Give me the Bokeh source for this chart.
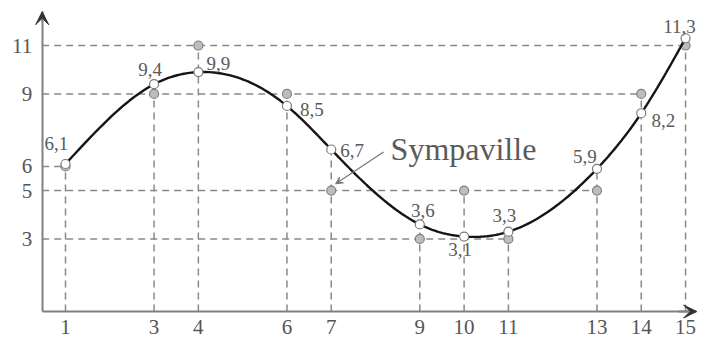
import numpy as np
from bokeh.plotting import figure
from bokeh.models import Range1d, FixedTicker, Arrow, VeeHead, Label, ColumnDataSource
from bokeh.core.properties import value
from bokeh.embed import file_html
from bokeh.resources import INLINE

# ---- data ----
x_vals = [1, 3, 4, 6, 7, 9, 10, 11, 13, 14, 15]
curve_vals = [6.1, 9.4, 9.9, 8.5, 6.7, 3.6, 3.1, 3.3, 5.9, 8.2, 11.3]
actual_vals = [6, 9, 11, 9, 5, 3, 5, 3, 5, 9, 11]
x_ticks = [1, 3, 4, 6, 7, 9, 10, 11, 13, 14, 15]
y_ticks = [3, 5, 6, 9, 11]
callout_text = "Sympaville"

# ---- styling / layout constants ----
label_dx = [-9, -4, 20, 25, 21, 3, -4, -4, -12, 22, -6]
label_dy = [-21, -15, -9, 4, 1, -14, 13, -16, -12, 7, -12]
AXIS_X = 0.474
X_END = 15.25
Y_END = 12.4
SERIF = "Liberation Serif"

p = figure(width=697, height=342, output_backend="svg", toolbar_location=None,
           x_range=Range1d(-0.4676, 15.27), y_range=Range1d(-1.282, 12.862),
           min_border=0, min_border_left=0, min_border_right=0,
           min_border_top=0, min_border_bottom=0)
p.outline_line_color = None
p.grid.visible = False
p.background_fill_color = "white"
p.border_fill_color = "white"

# axes
for ax in (p.xaxis, p.yaxis):
    ax.major_tick_line_color = None
    ax.minor_tick_line_color = None
    ax.major_tick_out = 0
    ax.major_tick_in = 0
    ax.minor_tick_out = 0
    ax.axis_line_color = "#808080"
    ax.axis_line_width = 2
    ax.major_label_text_font = SERIF
    ax.major_label_text_font_size = "21px"
    ax.major_label_text_color = "#555555"
p.xaxis.ticker = FixedTicker(ticks=x_ticks)
p.yaxis.ticker = FixedTicker(ticks=y_ticks)
p.xaxis.fixed_location = 0
p.yaxis.fixed_location = AXIS_X
p.xaxis.bounds = (AXIS_X, X_END)
p.yaxis.bounds = (0, Y_END)
p.xaxis.major_label_standoff = 8
p.yaxis.major_label_standoff = 10

# dashed guide lines
h_levels = sorted(set(actual_vals))
h_ends = [max(x for x, a in zip(x_vals, actual_vals) if a == lv) for lv in h_levels]
p.segment(x0=[AXIS_X] * len(h_levels), y0=h_levels, x1=h_ends, y1=h_levels,
          line_color="#8a8a8a", line_width=1.5, line_dash="7 5")
v_tops = [max(a, c) for a, c in zip(actual_vals, curve_vals)]
p.segment(x0=x_vals, y0=[0] * len(x_vals), x1=x_vals, y1=v_tops,
          line_color="#8a8a8a", line_width=1.5, line_dash="7 5")

# actual (grey) points
p.scatter(x_vals, actual_vals, marker="circle", size=9,
          fill_color="#bdbdbd", line_color="#808080", line_width=1.2)

# smooth curve through the points (natural cubic spline, for drawing only)
xs = np.array(x_vals, float)
ys = np.array(curve_vals, float)
n = len(xs)
h = np.diff(xs)
A = np.zeros((n, n))
b = np.zeros(n)
A[0, 0] = A[-1, -1] = 1.0
for i in range(1, n - 1):
    A[i, i - 1] = h[i - 1]
    A[i, i] = 2 * (h[i - 1] + h[i])
    A[i, i + 1] = h[i]
    b[i] = 3 * ((ys[i + 1] - ys[i]) / h[i] - (ys[i] - ys[i - 1]) / h[i - 1])
c = np.linalg.solve(A, b)
cx, cy = [], []
for i in range(n - 1):
    bi = (ys[i + 1] - ys[i]) / h[i] - h[i] * (2 * c[i] + c[i + 1]) / 3
    di = (c[i + 1] - c[i]) / (3 * h[i])
    for t in np.linspace(0, h[i], 25, endpoint=False):
        cx.append(xs[i] + t)
        cy.append(ys[i] + bi * t + c[i] * t * t + di * t ** 3)
cx.append(xs[-1])
cy.append(ys[-1])
p.line(cx, cy, line_color="#151515", line_width=2.4)

# curve points
p.scatter(x_vals, curve_vals, marker="circle", size=9,
          fill_color="white", line_color="#7a7a7a", line_width=1.2)

# value labels
src = ColumnDataSource(dict(
    x=x_vals, y=curve_vals,
    t=[f"{v:.1f}".replace(".", ",") for v in curve_vals],
    dx=label_dx, dy=label_dy))
p.text(x="x", y="y", text="t", x_offset="dx", y_offset="dy", source=src,
       text_font=value(SERIF), text_font_size="19px", text_color="#5a5a5a",
       text_align="center", text_baseline="middle")

# axis arrow heads
p.add_layout(Arrow(end=VeeHead(size=13, fill_color="#333333", line_color="#333333"),
                   x_start=X_END - 0.4, y_start=0, x_end=X_END, y_end=0,
                   line_color="#808080", line_width=2))
p.add_layout(Arrow(end=VeeHead(size=13, fill_color="#333333", line_color="#333333"),
                   x_start=AXIS_X, y_start=Y_END - 0.4, x_end=AXIS_X, y_end=Y_END,
                   line_color="#808080", line_width=2))

# callout
p.add_layout(Label(x=8.34, y=6.72, text=callout_text, text_font=SERIF,
                   text_font_size="32px", text_color="#5a5a5a",
                   text_baseline="alphabetic", text_align="left"))
p.add_layout(Arrow(end=VeeHead(size=7, fill_color="#777777", line_color="#777777"),
                   x_start=8.18, y_start=6.6, x_end=7.10, y_end=5.28,
                   line_color="#777777", line_width=1.2))

open("out.html", "w").write(file_html(p, INLINE))
